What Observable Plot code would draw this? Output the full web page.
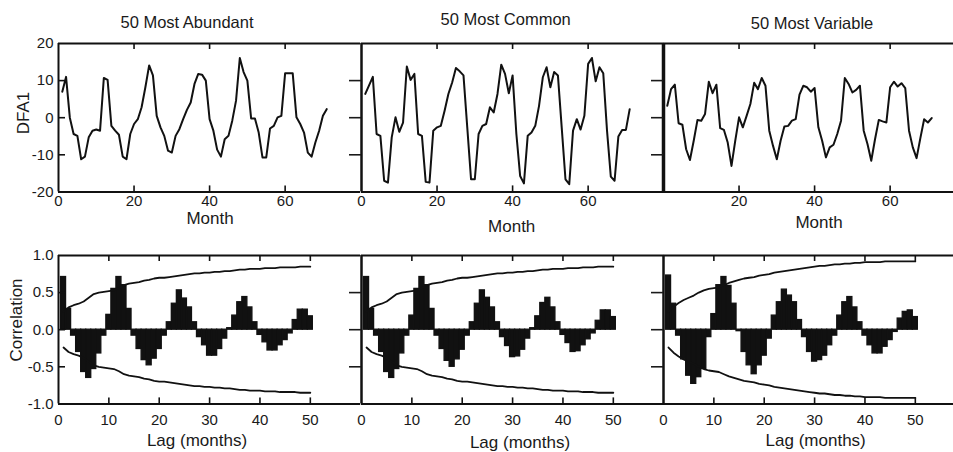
<!DOCTYPE html>
<html><head><meta charset="utf-8">
<script src="https://cdn.jsdelivr.net/npm/d3@7"></script>
<script src="https://cdn.jsdelivr.net/npm/@observablehq/plot@0.6"></script>
<style>
body{margin:0;background:#fff;}
#fig{position:relative;width:953px;height:452px;overflow:hidden;font-family:"Liberation Sans",Arial,sans-serif;color:#1a1a1a;background:#fff;}
#fig svg{position:absolute;}
.lbl{position:absolute;white-space:nowrap;transform:translate(-50%,-50%);font-size:17px;line-height:1;}
.ttl{font-size:16.5px;}
.rot{transform:translate(-50%,-50%) rotate(-90deg);}
</style></head><body><div id="fig"></div>
<script>
const titles = ["50 Most Abundant", "50 Most Common", "50 Most Variable"];
const months = [1,2,3,4,5,6,7,8,9,10,11,12,13,14,15,16,17,18,19,20,21,22,23,24,25,26,27,28,29,30,31,32,33,34,35,36,37,38,39,40,41,42,43,44,45,46,47,48,49,50,51,52,53,54,55,56,57,58,59,60,61,62,63,64,65,66,67,68,69,70,71];
const abundant = [7,11,0,-4.4,-4.9,-11.2,-10.5,-5.3,-3.5,-3.2,-3.5,10.7,10.2,-2.2,-3.5,-4.6,-10.5,-11.2,-4.4,-1.7,-0.4,2.8,8.2,14.1,11.4,0.5,-2.6,-4.9,-8.9,-9.4,-4.9,-3.1,-0.4,2.1,4.1,9.1,11.8,11.6,10,-0.4,-3.5,-8.6,-10.5,-5.8,-4.9,-0.8,4.6,16.1,12.3,10,-0.2,-0.2,-4,-10.7,-10.7,-2.9,-2.2,0.1,0.5,12,12,12,0.1,-1.7,-4,-9.4,-10.5,-6.7,-3.5,0.5,2.3];
const common = [6.4,8.7,11,-4.4,-4.9,-17,-17.5,-5.3,0.1,-3.8,-1.3,13.8,10.2,11.8,-4.4,-4.9,-17.3,-17.5,-3.5,-2.6,-2.2,1.9,6.4,9.5,13.4,12.5,11.4,-2.6,-16.6,-16.6,-4.4,-2.2,-1.7,2.8,1.4,6.4,14.3,11.8,6.6,11.4,-4.4,-15.7,-17.7,-4.9,-4,-2.2,3.2,10.9,13.6,8.2,12.3,11.4,-2.6,-16.6,-17.9,-3.5,-0.4,-3.2,0.5,14.5,16.1,9.8,13.6,12,-3.5,-15.9,-17,-5.1,-3.3,-3.3,2.3];
const variable = [3.2,7.7,8.9,-1.5,-1.9,-8.5,-11.4,-6.2,-0.6,-0.8,1,9.7,6.6,8.9,-2.8,-3.3,-6.7,-13,-6.2,0.1,-2.6,0.5,3.7,9.4,7.7,10.7,8.6,-3.5,-7.6,-11.2,-6.2,-2.4,-2.2,-0.8,-0.4,6.2,8.6,8.2,7,8,-2.6,-6.2,-10.7,-8,-7.3,-4.4,-0.8,10.7,9.1,6.8,7.5,8.6,-3.5,-7.1,-11.6,-5.8,-0.6,-1,-1.3,8.2,9.7,8.4,9.3,8,-3.5,-8,-10.9,-5.5,-0.4,-1.3,-0.1];

const lags = [1,2,3,4,5,6,7,8,9,10,11,12,13,14,15,16,17,18,19,20,21,22,23,24,25,26,27,28,29,30,31,32,33,34,35,36,37,38,39,40,41,42,43,44,45,46,47,48,49,50];
const acfAbundant = [0.71,0.28,-0.08,-0.3,-0.57,-0.65,-0.53,-0.32,-0.08,0.2,0.55,0.71,0.6,0.28,-0.08,-0.26,-0.41,-0.48,-0.39,-0.26,-0.08,0.1,0.35,0.53,0.42,0.3,0.1,-0.1,-0.21,-0.35,-0.35,-0.26,-0.12,0.02,0.19,0.37,0.44,0.3,0.1,-0.07,-0.17,-0.28,-0.28,-0.21,-0.14,-0.05,0.13,0.27,0.27,0.18];
const acfCommon = [0.71,0.28,-0.08,-0.3,-0.57,-0.65,-0.53,-0.32,-0.08,0.19,0.55,0.71,0.6,0.28,-0.08,-0.26,-0.42,-0.5,-0.4,-0.27,-0.08,0.1,0.35,0.53,0.43,0.3,0.1,-0.1,-0.22,-0.37,-0.36,-0.27,-0.12,0.02,0.18,0.36,0.43,0.3,0.1,-0.07,-0.18,-0.3,-0.29,-0.21,-0.13,-0.05,0.12,0.26,0.26,0.17];
const acfVariable = [0.73,0.35,-0.08,-0.4,-0.62,-0.73,-0.64,-0.53,-0.1,0.21,0.6,0.71,0.59,0.35,-0.02,-0.3,-0.48,-0.6,-0.48,-0.35,-0.12,0.19,0.37,0.54,0.46,0.37,0.13,-0.1,-0.3,-0.43,-0.41,-0.35,-0.21,-0.08,0.19,0.37,0.44,0.3,0.1,-0.08,-0.21,-0.32,-0.32,-0.23,-0.14,-0.03,0.15,0.24,0.26,0.17];
const bandAbundant = [0.24,0.3,0.33,0.35,0.38,0.43,0.48,0.5,0.51,0.52,0.53,0.56,0.6,0.62,0.63,0.64,0.66,0.67,0.69,0.7,0.7,0.71,0.72,0.73,0.74,0.75,0.76,0.76,0.77,0.77,0.78,0.78,0.79,0.79,0.8,0.81,0.81,0.82,0.82,0.82,0.83,0.83,0.83,0.84,0.84,0.84,0.84,0.85,0.85,0.85];
const bandCommon = [0.24,0.3,0.33,0.35,0.38,0.43,0.48,0.5,0.51,0.52,0.53,0.56,0.6,0.62,0.63,0.64,0.66,0.67,0.69,0.7,0.7,0.71,0.72,0.73,0.74,0.75,0.76,0.76,0.77,0.77,0.78,0.78,0.79,0.79,0.8,0.81,0.81,0.82,0.82,0.82,0.83,0.83,0.83,0.84,0.84,0.84,0.85,0.85,0.85,0.85];
const bandVariable = [0.24,0.31,0.36,0.4,0.43,0.46,0.5,0.53,0.55,0.56,0.57,0.6,0.63,0.65,0.67,0.69,0.7,0.71,0.73,0.74,0.75,0.77,0.78,0.79,0.8,0.81,0.82,0.83,0.84,0.85,0.86,0.86,0.87,0.88,0.88,0.89,0.89,0.9,0.9,0.91,0.91,0.91,0.91,0.92,0.92,0.92,0.92,0.92,0.92,0.92];

const monthDomain = [0, 80];
const dfaDomain = [-20, 20];
const lagDomain = [0, 60];
const corrDomain = [-1, 1];
const monthTicks = [20, 40, 60];
const monthTickLabels = [[0, 20, 40, 60], [0, 20, 40, 60], [20, 40, 60]];
const dfaTickLabels = [20, 10, 0, -10, -20];
const dfaInnerTicks = [10, 0, -10];
const lagTicks = [10, 20, 30, 40, 50];
const lagTickLabels = [0, 10, 20, 30, 40, 50];
const corrTickLabels = [1, 0.5, 0, -0.5, -1];
const corrInnerTicks = [0.5, 0, -0.5];

const seriesList = [abundant, common, variable];
const acfList = [acfAbundant, acfCommon, acfVariable];
const bandList = [bandAbundant, bandCommon, bandVariable];

const fig = document.getElementById("fig");
const ink = "#111";
const PW = 302.2, PH = 148.4, ML = 62, MT = 20, MB = 40;
const X0 = [58.3, 360.5, 662.7];
const TOPS = [43.3, 255];
const baseStyle = {fontFamily: "'Liberation Sans', Arial, sans-serif", fontSize: "15px", color: "#1a1a1a", background: "none", overflow: "visible"};

function place(svg, k, row) {
  svg.style.left = (X0[k] - ML) + "px";
  svg.style.top = (TOPS[row] - MT) + "px";
  fig.appendChild(svg);
}

function topPanel(k) {
  const data = months.map((m, i) => ({m, v: seriesList[k][i]}));
  const leftW = [2, 2.5, 3.5][k];
  const marks = [
    Plot.ruleY(dfaDomain, {stroke: ink, strokeWidth: 2}),
    Plot.ruleX([monthDomain[0]], {stroke: ink, strokeWidth: leftW}),
    Plot.ruleX(monthTicks, {stroke: ink, strokeWidth: 1.6, insetBottom: PH - 6}),
    Plot.ruleX(monthTicks, {stroke: ink, strokeWidth: 1.6, insetTop: PH - 6}),
    Plot.axisX(monthTickLabels[k], {tickSize: 0, tickPadding: 3, tickFormat: d => String(d), label: null}),
    Plot.line(data, {x: "m", y: "v", stroke: ink, strokeWidth: 2})
  ];
  if (k === 0) {
    marks.push(Plot.ruleY(dfaInnerTicks, {stroke: ink, strokeWidth: 1.6, insetRight: PW - 7}));
    marks.push(Plot.axisY(dfaTickLabels, {tickSize: 0, tickPadding: 5, tickFormat: d => String(d), label: null}));
  } else {
    marks.push(Plot.axisY(dfaInnerTicks, {tickSize: 12, strokeWidth: 1.6, tickFormat: () => "", label: null}));
  }
  const svg = Plot.plot({
    width: ML + PW, height: MT + PH + MB,
    marginLeft: ML, marginRight: 0, marginTop: MT, marginBottom: MB,
    x: {domain: monthDomain, label: null}, y: {domain: dfaDomain, label: null},
    style: baseStyle, marks
  });
  place(svg, k, 0);
}

function bottomPanel(k) {
  const data = lags.map((l, i) => ({l, r: acfList[k][i], b: bandList[k][i]}));
  const leftW = [2, 2.5, 2.5][k];
  const marks = [
    Plot.rectY(data, {x1: d => d.l - 0.5, x2: d => d.l + 0.5, y: "r", fill: ink, stroke: ink, strokeWidth: 1.3, inset: 0}),
    Plot.line(data, {x: "l", y: "b", stroke: ink, strokeWidth: 1.8}),
    Plot.line(data, {x: "l", y: d => -d.b, stroke: ink, strokeWidth: 1.8}),
    Plot.ruleY(corrDomain, {stroke: ink, strokeWidth: 2}),
    Plot.ruleX([lagDomain[0]], {stroke: ink, strokeWidth: leftW}),
    Plot.ruleX(lagTicks, {stroke: ink, strokeWidth: 1.6, insetBottom: PH - 6}),
    Plot.ruleX(lagTicks, {stroke: ink, strokeWidth: 1.6, insetTop: PH - 6}),
    Plot.axisX(lagTickLabels, {tickSize: 0, tickPadding: 10, tickFormat: d => String(d), label: null})
  ];
  if (k === 0) {
    marks.push(Plot.ruleY(corrInnerTicks, {stroke: ink, strokeWidth: 1.6, insetRight: PW - 7}));
    marks.push(Plot.axisY(corrTickLabels, {tickSize: 0, tickPadding: 5, tickFormat: d => d.toFixed(1), label: null}));
  } else {
    marks.push(Plot.axisY(corrInnerTicks, {tickSize: 12, strokeWidth: 1.6, tickFormat: () => "", label: null}));
  }
  const svg = Plot.plot({
    width: ML + PW, height: MT + PH + MB,
    marginLeft: ML, marginRight: 0, marginTop: MT, marginBottom: MB,
    x: {domain: lagDomain, label: null}, y: {domain: corrDomain, label: null},
    style: baseStyle, marks
  });
  place(svg, k, 1);
}

for (let k = 0; k < 3; k++) { topPanel(k); }
for (let k = 0; k < 3; k++) { bottomPanel(k); }

function label(text, x, y, cls) {
  const d = document.createElement("div");
  d.className = "lbl " + (cls || "");
  d.textContent = text;
  d.style.left = x + "px";
  d.style.top = y + "px";
  fig.appendChild(d);
}
const titlePos = [[187, 22], [505.7, 18.5], [812, 22.5]];
titles.forEach((t, k) => label(t, titlePos[k][0], titlePos[k][1], "ttl"));
[[210, 218], [511.7, 226], [819, 221.5]].forEach(p => label("Month", p[0], p[1]));
[[197, 440], [520, 442], [815.7, 440]].forEach(p => label("Lag (months)", p[0], p[1]));
label("DFA1", 22.5, 112.5, "rot");
label("Correlation", 16, 320, "rot");
</script></body></html>
